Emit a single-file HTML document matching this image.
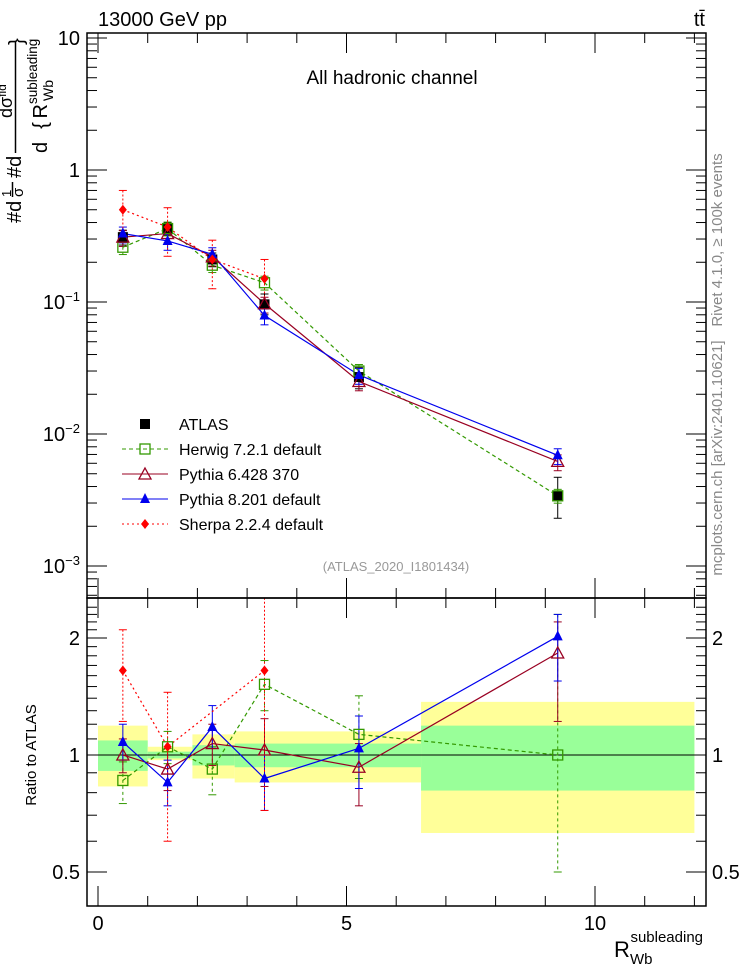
<!DOCTYPE html>
<html><head><meta charset="utf-8">
<style>
body{margin:0;background:#fff;}
svg{display:block;font-family:"Liberation Sans",sans-serif;}
</style></head>
<body>
<svg id="c" width="746" height="972" xmlns="http://www.w3.org/2000/svg">
<text x="98" y="26" font-size="20">13000 GeV pp</text>
<text x="705" y="26" font-size="20" text-anchor="end">tt̄</text>
<text x="392" y="84" font-size="19" text-anchor="middle">All hadronic channel</text>
<text x="396" y="571" font-size="13" fill="#999" text-anchor="middle">(ATLAS_2020_I1801434)</text>
<text transform="translate(722,240) rotate(-90)" font-size="15" fill="#888" text-anchor="middle">Rivet 4.1.0, ≥ 100k events</text>
<text transform="translate(722,458) rotate(-90)" font-size="15" fill="#888" text-anchor="middle">mcplots.cern.ch [arXiv:2401.10621]</text>
<g font-size="20">
<text transform="translate(21,223) rotate(-90)">#d</text>
<text transform="translate(11,197) rotate(-90)" font-size="13">1</text>
<line x1="12.5" x2="12.5" y1="182" y2="197" stroke="#000" stroke-width="1.5"/>
<text transform="translate(23,197) rotate(-90)" font-size="15">σ</text>
<text transform="translate(21,178) rotate(-90)">#d</text>
<line x1="15.5" x2="15.5" y1="42" y2="153" stroke="#000" stroke-width="1.5"/>
<text transform="translate(12,118) rotate(-90)" font-size="18">dσ<tspan font-size="12" dy="-6">fid</tspan></text>
<text transform="translate(47,153) rotate(-90)" textLength="49" lengthAdjust="spacing">d {R</text>
<text transform="translate(53,101) rotate(-90)" font-size="14">Wb</text>
<text transform="translate(37,104) rotate(-90)" font-size="13.5">subleading</text>
<text transform="translate(23,45) rotate(-90)" font-size="20">}</text>
</g>
<text transform="translate(36,755) rotate(-90)" font-size="15" text-anchor="middle">Ratio to ATLAS</text>
<text x="703" y="957" font-size="22" text-anchor="end">R<tspan font-size="15" dy="7">Wb</tspan><tspan font-size="15" dx="-22" dy="-22">subleading</tspan></text>
<g id="g"></g>
</svg>
<script>
const xVals=[0.5,1.4,2.3,3.35,5.25,9.25];
const atlas=[0.31,0.36,0.21,0.096,0.027,0.0034];
const atlasErrUp=[0.35,0.40,0.235,0.115,0.032,0.0047];
const atlasErrDn=[0.27,0.32,0.185,0.08,0.022,0.0023];
const herwig=[0.26,0.36,0.19,0.14,0.030,0.0034];
const pythia6=[0.31,0.33,0.22,0.097,0.025,0.0062];
const pythia8=[0.33,0.29,0.23,0.079,0.028,0.0069];
const sherpa=[0.50,0.37,0.21,0.15,null,null];
const rHerwig=[0.86,1.05,0.92,1.52,1.13,1.0];
const rPythia6=[1.0,0.92,1.07,1.03,0.93,1.83];
const rPythia8=[1.08,0.85,1.18,0.87,1.04,2.02];
const rSherpa=[1.65,1.05,null,1.65,null,null];
const rHerwigUp=[0.96,1.15,1.05,1.75,1.42,2.3];
const rHerwigDn=[0.75,0.95,0.79,1.3,0.87,0.5];
const rP6Up=[1.1,1.04,1.2,1.24,1.07,2.2];
const rP6Dn=[0.9,0.81,0.94,0.83,0.74,1.22];
const rP8Up=[1.2,0.97,1.34,1.0,1.26,2.3];
const rP8Dn=[0.97,0.74,1.04,0.72,0.82,1.55];
const rSherpaUp=[2.1,1.45,null,2.6,null,null];
const rSherpaDn=[1.22,0.6,null,0.72,null,null];
const binEdges=[0,1,1.9,2.75,6.5,12];
const yellowHi=[1.19,1.05,1.13,1.15,1.37];
const yellowLo=[0.83,0.97,0.87,0.85,0.63];
const greenHi=[1.09,1.02,1.06,1.07,1.19];
const greenLo=[0.91,0.98,0.94,0.93,0.81];

const L=87,R=706,T=33,MB=598,RB=906;
const X=v=>98+v*49.7;
const Y=v=>170-Math.log10(v)*132;
const RY=v=>755-Math.log2(v)*117;
const NS="http://www.w3.org/2000/svg";
const g=document.getElementById('g');
function mk(tag,at,parent){const e=document.createElementNS(NS,tag);for(const k in at)e.setAttribute(k,at[k]);(parent||g).appendChild(e);return e;}

const defs=mk('defs',{});
const cp=mk('clipPath',{id:'rclip'},defs);
mk('rect',{x:L,y:MB,width:R-L,height:RB-MB},cp);
const rg=mk('g',{'clip-path':'url(#rclip)'});

// ratio bands
for(let i=0;i<5;i++){
 const y=mk('rect',{x:X(binEdges[i]),y:RY(yellowHi[i]),width:X(binEdges[i+1])-X(binEdges[i]),height:RY(yellowLo[i])-RY(yellowHi[i]),fill:'#ffff99'},rg);
 
 
 const gr=mk('rect',{x:X(binEdges[i]),y:RY(greenHi[i]),width:X(binEdges[i+1])-X(binEdges[i]),height:RY(greenLo[i])-RY(greenHi[i]),fill:'#99ff99'},rg);
 
 
}
mk('line',{x1:L,x2:R,y1:RY(1),y2:RY(1),stroke:'#000','stroke-width':1},rg);

// frames
const f1=mk('rect',{x:L,y:T,width:R-L,height:MB-T,fill:'none',stroke:'#000','stroke-width':1.5});


const f2=mk('rect',{x:L,y:MB,width:R-L,height:RB-MB,fill:'none',stroke:'#000','stroke-width':1.5});



// main y ticks
const mainTicks=[10,1,0.1,0.01,0.001];
const mainLabels=['10','1','10<tspan font-size="13" dy="-8">−1</tspan>','10<tspan font-size="13" dy="-8">−2</tspan>','10<tspan font-size="13" dy="-8">−3</tspan>'];
for(let d=-4;d<=1;d++)for(let m=1;m<10;m++){const v=m*Math.pow(10,d);const y=Y(v);if(y<T||y>MB)continue;const len=m==1?20:10;
 mk('line',{x1:L,x2:L+len,y1:y,y2:y,stroke:'#000'});mk('line',{x1:R,x2:R-len,y1:y,y2:y,stroke:'#000'});}
mainTicks.forEach((v,i)=>{const t=mk('text',{x:80,y:Y(v)+7,'font-size':20,'text-anchor':'end'});t.innerHTML=mainLabels[i];
 
 });
// ratio y ticks
for(let v=0.4;v<=2.5;v+=0.1){const y=RY(v);if(y<MB||y>RB)continue;const major=Math.abs(v-0.5)<1e-6||Math.abs(v-1)<1e-6||Math.abs(v-2)<1e-6;const len=major?20:10;
 mk('line',{x1:L,x2:L+len,y1:y,y2:y,stroke:'#000'});mk('line',{x1:R,x2:R-len,y1:y,y2:y,stroke:'#000'});}
const ratioTicks=[0.5,1,2];const ratioLabels=['0.5','1','2'];
ratioTicks.forEach((v,i)=>{const t=mk('text',{x:80,y:RY(v)+7,'font-size':20,'text-anchor':'end'});t.textContent=ratioLabels[i];
 
 
 const t2=mk('text',{x:712,y:RY(v)+7,'font-size':20});t2.textContent=ratioLabels[i];
 
 });
// x ticks
for(let v=0;v<=12;v++){const x=X(v);const len=v%5==0?20:10;
 [[T,1],[MB,-1],[MB,1],[RB,-1]].forEach(([y0,s])=>mk('line',{x1:x,x2:x,y1:y0,y2:y0+s*len,stroke:'#000'}));}
const xTicks=[0,5,10];
xTicks.forEach(v=>{const t=mk('text',{x:X(v),y:930,'font-size':20,'text-anchor':'middle'});t.textContent=v;
 
 });

function series(vals,fy,color,dash,name,par){
 let d='';vals.forEach((v,i)=>{if(v==null)return;d+=(d?'L':'M')+X(xVals[i])+','+fy(v);});
 const p=mk('path',{d:d,fill:'none',stroke:color,'stroke-width':1.2,'stroke-dasharray':dash||'none'},par);
 
 
}
function errs(up,dn,fy,color,dash,par){
 up.forEach((u,i)=>{if(u==null)return;const x=X(xVals[i]);
 mk('line',{x1:x,x2:x,y1:fy(u),y2:fy(dn[i]),stroke:color,'stroke-dasharray':dash||'none'},par);
 mk('line',{x1:x-4,x2:x+4,y1:fy(u),y2:fy(u),stroke:color},par);mk('line',{x1:x-4,x2:x+4,y1:fy(dn[i]),y2:fy(dn[i]),stroke:color},par);});
}
function marker(type,x,y,color,par){
 let e;
 if(type=='sq')e=mk('rect',{x:x-5,y:y-5,width:10,height:10,fill:'#000'},par);
 if(type=='osq')e=mk('rect',{x:x-5,y:y-5,width:10,height:10,fill:'none',stroke:color,'stroke-width':1.3},par);
 if(type=='otri')e=mk('path',{d:`M${x},${y-6}L${x+6},${y+5}L${x-6},${y+5}Z`,fill:'none',stroke:color,'stroke-width':1.3},par);
 if(type=='tri')e=mk('path',{d:`M${x},${y-6}L${x+5},${y+4}L${x-5},${y+4}Z`,fill:color},par);
 if(type=='dia')e=mk('path',{d:`M${x},${y-5}L${x+4},${y}L${x},${y+5}L${x-4},${y}Z`,fill:color},par);
 return e;
}
function points(vals,fy,type,color,name,par){
 vals.forEach((v,i)=>{if(v==null)return;const e=marker(type,X(xVals[i]),fy(v),color,par);
 
 });
}
const GR='#339900',P6='#990022',P8='#0000ee',SH='#ff0000';
// main
errs(atlasErrUp,atlasErrDn,Y,'#000');
const mul=(a,f)=>a.map(v=>v==null?null:v*f);
errs(mul(herwig,1.12),mul(herwig,0.88),Y,GR,'3,3');
errs(mul(pythia6,1.12),mul(pythia6,0.85),Y,P6);
errs(mul(pythia8,1.12),mul(pythia8,0.85),Y,P8);
errs(mul(sherpa,1.4),mul(sherpa,0.6),Y,SH,'2,2');
series(herwig,Y,GR,'4,3','herwig-line');
series(pythia6,Y,P6,null,'pythia6-line');
series(pythia8,Y,P8,null,'pythia8-line');
series(sherpa,Y,SH,'2,3','sherpa-line');
points(atlas,Y,'sq','#000','atlas-point');
points(herwig,Y,'osq',GR,'herwig-point');
points(pythia6,Y,'otri',P6,'pythia6-point');
points(pythia8,Y,'tri',P8,'pythia8-point');
points(sherpa,Y,'dia',SH,'sherpa-point');
// ratio
errs(rHerwigUp,rHerwigDn,RY,GR,'3,3',rg);
errs(rP6Up,rP6Dn,RY,P6,null,rg);
errs(rP8Up,rP8Dn,RY,P8,null,rg);
errs(rSherpaUp,rSherpaDn,RY,SH,'2,2',rg);
series(rHerwig,RY,GR,'4,3','ratio-herwig-line',rg);
series(rPythia6,RY,P6,null,'ratio-pythia6-line',rg);
series(rPythia8,RY,P8,null,'ratio-pythia8-line',rg);
series(rSherpa,RY,SH,'2,3','ratio-sherpa-line',rg);
points(rHerwig,RY,'osq',GR,'ratio-herwig-point',rg);
points(rPythia6,RY,'otri',P6,'ratio-pythia6-point',rg);
points(rPythia8,RY,'tri',P8,'ratio-pythia8-point',rg);
points(rSherpa,RY,'dia',SH,'ratio-sherpa-point',rg);

// legend
const legNames=['ATLAS','Herwig 7.2.1 default','Pythia 6.428 370','Pythia 8.201 default','Sherpa 2.2.4 default'];
const legTypes=['sq','osq','otri','tri','dia'];
const legColors=['#000',GR,P6,P8,SH];
const legDash=[null,'4,3',null,null,'2,3'];
legNames.forEach((n,i)=>{const y=424+i*25;const lg=mk('g',{});
 
 
 if(i>0)mk('line',{x1:122,x2:168,y1:y,y2:y,stroke:legColors[i],'stroke-dasharray':legDash[i]||'none'},lg);
 marker(legTypes[i],145,y,legColors[i],lg);
 const t=mk('text',{x:179,y:y+6,'font-size':16},lg);t.textContent=n;});
</script>
</body></html>
